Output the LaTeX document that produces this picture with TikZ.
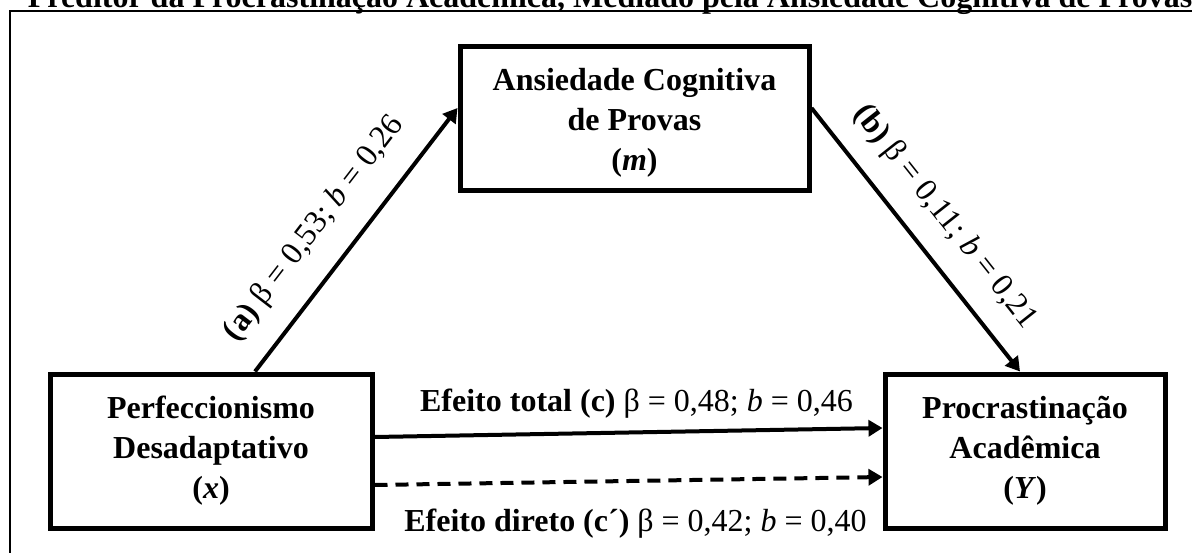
\documentclass[tikz,border=0pt]{standalone}
\usepackage{fontspec}
\setmainfont{Liberation Serif}
\usetikzlibrary{arrows.meta}
\begin{document}
\begin{tikzpicture}[x=1pt,y=-1pt,
  boxfont/.style={font=\bfseries\fontsize{32}{40}\selectfont},
  box/.style={draw, line width=5pt, align=center, inner sep=0pt, boxfont},
  arr/.style={line width=4pt, -{Triangle[length=14pt,width=16pt]}},
  dashpat/.style={dash pattern=on 13pt off 8pt},
  lbl/.style={font=\fontsize{32}{38}\selectfont},
  dlbl/.style={font=\fontsize{32}{38}\selectfont},
  ttl/.style={font=\bfseries\fontsize{32}{38}\selectfont},
  frame/.style={line width=1.5pt}
]
\useasboundingbox (0,0) rectangle (1192,552);
\clip (0,0) rectangle (1192,552);

\node[ttl, anchor=base] (title) at (610,7) {Preditor da Procrastinação Acadêmica, Mediado pela Ansiedade Cognitiva de Provas};
\draw[frame] (10,600) -- (10,11) -- (1250,11);

\node[box, minimum width=349pt, minimum height=144pt,
  label={[boxfont, align=center, yshift=-4.5pt]center:{Ansiedade Cognitiva\\de Provas\\(\textit{m})}}] (mn) at (634.5,118) {};
\node[box, minimum width=322pt, minimum height=154pt] (xn) at (211,451)
  {Perfeccionismo\\Desadaptativo\\(\textit{x})};
\node[box, minimum width=280pt, minimum height=154pt] (yn) at (1025,451)
  {Procrastinação\\Acadêmica\\(\textit{Y})};

\draw[arr] ([xshift=44pt]xn.north) -- ([yshift=10pt]mn.west)
  node[dlbl, sloped, pos=0.45, above=20pt] {\textbf{(a)} β = 0,53; \textit{b} = 0,26};
\draw[arr] ([yshift=10pt]mn.east) -- ([xshift=-5pt]yn.north)
  node[dlbl, sloped, midway, above=17pt] {\textbf{(b)} β = 0,11; \textit{b} = 0,21};
\draw[arr] ([yshift=14pt]xn.east) -- ([yshift=23pt]yn.west)
  node[lbl, midway, anchor=base, yshift=21.5pt, xshift=8pt] {\textbf{Efeito total (c)} β = 0,48; \textit{b} = 0,46};
\draw[arr, dashpat] ([yshift=-34pt]xn.east) -- ([yshift=-26pt]yn.west)
  node[lbl, midway, anchor=base, yshift=-50pt, xshift=7pt] {\textbf{Efeito direto (c´)} β = 0,42; \textit{b} = 0,40};
\end{tikzpicture}
\end{document}
